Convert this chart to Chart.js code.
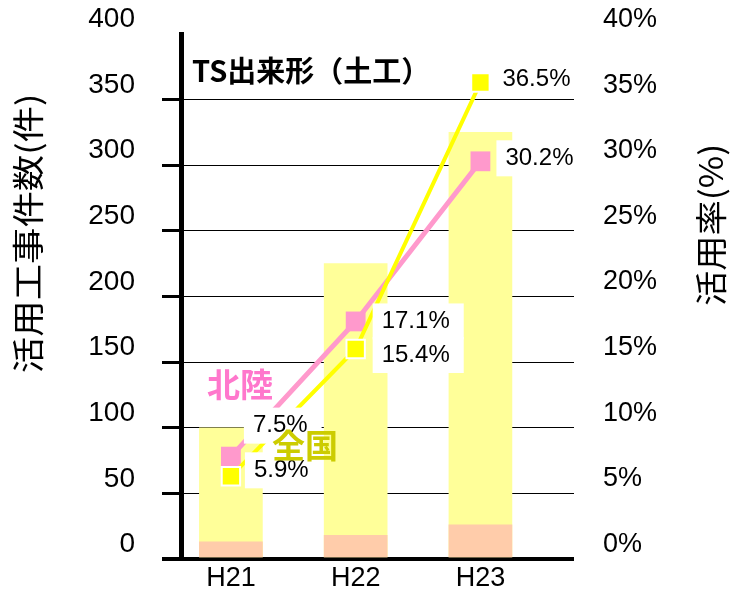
<!DOCTYPE html>
<html>
<head>
<meta charset="utf-8">
<script src="https://cdn.jsdelivr.net/npm/chart.js"></script>
<style>
  body { margin: 0; background: #fff; }
  canvas { display: block; }
</style>
</head>
<body>
<canvas id="chart" width="731" height="589"></canvas>
<script>
// categories (fiscal years)
const categories = ['H21', 'H22', 'H23'];

// counts (left axis, 件)
const zenkokuCount = [100, 225, 325];
const hokurikuCount = [13, 18, 26];

// rates (right axis, %) as plotted
const zenkokuRate = [6.3, 16.0, 36.3];
const hokurikuRate = [7.8, 18.1, 30.3];

// data label texts as printed
const zenkokuLabels = ['5.9%', '15.4%', '36.5%'];
const hokurikuLabels = ['7.5%', '17.1%', '30.2%'];

const chartTitle = 'TS出来形（土工）';
const leftTitle = '活用工事件数(件)';
const rightTitle = '活用率(%)';

const numFont = "'Liberation Sans', Arial, sans-serif";
const jpFont = "'Noto Sans CJK JP', sans-serif";

// label placement: [dx from point, dy from point]
const zenkokuLabelPos = [[23, -6], [26, 6], [22, -3]];
const hokurikuLabelPos = [[22, -31], [26, 0], [25, -3]];

function toXY(arr) {
    return arr.map((v, i) => ({ x: i, y: v }));
}

// rotated title, stretched so the ink spans from y0 (bottom) to y1 (top)
function drawVertical(ctx, text, cx, yBottom, yTop, font) {
    ctx.save();
    ctx.font = font;
    const m = ctx.measureText(text);
    const inkL = m.actualBoundingBoxLeft;   // ink extends left of x by this
    const inkW = m.actualBoundingBoxLeft + m.actualBoundingBoxRight;
    const k = (yBottom - yTop) / inkW;
    ctx.translate(cx, yBottom);
    ctx.rotate(-Math.PI / 2);
    ctx.scale(k, 1);
    ctx.textAlign = 'left';
    ctx.textBaseline = 'middle';
    ctx.fillStyle = '#000';
    ctx.fillText(text, inkL, 0);
    ctx.restore();
}

const labelPlugin = {
    id: 'labels',
    afterDatasetsDraw(chart) {
        const ctx = chart.ctx;
        ctx.save();
        ctx.font = '24px ' + numFont;
        ctx.textBaseline = 'middle';
        ctx.textAlign = 'left';

        const items = [];
        const addItems = (dsIndex, texts, pos) => {
            const meta = chart.getDatasetMeta(dsIndex);
            meta.data.forEach((pt, i) => {
                items.push({
                    text: texts[i],
                    x: pt.x + pos[i][0],
                    y: pt.y + pos[i][1],
                    w: ctx.measureText(texts[i]).width
                });
            });
        };
        addItems(0, zenkokuLabels, zenkokuLabelPos);
        addItems(1, hokurikuLabels, hokurikuLabelPos);

        // white boxes first, then the texts
        ctx.fillStyle = '#ffffff';
        items.forEach(it => ctx.fillRect(it.x - 9, it.y - 18, it.w + 23, 36));
        ctx.fillStyle = '#000000';
        items.forEach(it => ctx.fillText(it.text, it.x, it.y));

        // chart title
        ctx.font = 'bold 29px ' + jpFont;
        ctx.fillText(chartTitle, 192, 71);

        // series names
        ctx.font = 'bold 33px ' + jpFont;
        ctx.fillStyle = '#FF77CC';
        ctx.fillText('北陸', 207, 384);
        ctx.fillStyle = '#CCCC00';
        ctx.fillText('全国', 272, 445);
        ctx.restore();

        // axis titles
        drawVertical(ctx, leftTitle, 28, 372, 97, '32px ' + jpFont);
        drawVertical(ctx, rightTitle, 711, 305, 147, '32px ' + jpFont);
    }
};

function noPad(s) {
    s.paddingTop = 0;
    s.paddingBottom = 0;
    s.paddingLeft = 0;
    s.paddingRight = 0;
}

const ctx = document.getElementById('chart').getContext('2d');

new Chart(ctx, {
    data: {
        datasets: [
            {
                type: 'line',
                label: '全国',
                data: toXY(zenkokuRate),
                yAxisID: 'y1',
                borderColor: '#FFFF00',
                borderWidth: 4,
                pointStyle: 'rect',
                pointRadius: 13,
                pointBackgroundColor: '#FFFF00',
                pointBorderColor: '#FFFFFF',
                pointBorderWidth: 2,
                tension: 0,
                clip: false
            },
            {
                type: 'line',
                label: '北陸',
                data: toXY(hokurikuRate),
                yAxisID: 'y1',
                borderColor: '#FF99CC',
                borderWidth: 5,
                pointStyle: 'rect',
                pointRadius: 14,
                pointBackgroundColor: '#FF99CC',
                pointBorderColor: '#FF99CC',
                pointBorderWidth: 0,
                tension: 0,
                clip: false
            },
            {
                type: 'bar',
                label: '北陸件数',
                data: toXY(hokurikuCount),
                yAxisID: 'y',
                backgroundColor: '#FFCCAA',
                barThickness: 63,
                grouped: false
            },
            {
                type: 'bar',
                label: '全国件数',
                data: toXY(zenkokuCount),
                yAxisID: 'y',
                backgroundColor: '#FFFF99',
                barThickness: 63,
                grouped: false
            }
        ]
    },
    options: {
        responsive: false,
        animation: false,
        layout: { padding: { top: 34, left: 0, right: 0, bottom: 0 } },
        plugins: {
            legend: { display: false },
            tooltip: { enabled: false },
            title: { display: false }
        },
        scales: {
            x: {
                type: 'linear',
                offset: false,
                min: -0.4,
                max: 2.75,
                grid: { display: false, drawTicks: false },
                border: { display: false },
                afterBuildTicks: s => { s.ticks = categories.map((c, i) => ({ value: i })); },
                afterFit: s => { s.height = 30; noPad(s); },
                ticks: {
                    callback: v => categories[v],
                    font: { family: numFont, size: 27 },
                    color: '#000',
                    padding: 3,
                    maxRotation: 0
                }
            },
            y: {
                position: 'left',
                min: 0,
                max: 400,
                afterFit: s => { s.width = 181; noPad(s); },
                border: { display: true, color: '#000', width: 5 },
                grid: {
                    color: c => c.tick && c.tick.value === 400 ? 'rgba(0,0,0,0)' : '#000',
                    tickColor: c => c.tick && c.tick.value === 400 ? 'rgba(0,0,0,0)' : '#000',
                    lineWidth: c => c.tick && c.tick.value === 0 ? 4 : 1,
                    tickWidth: c => c.tick && c.tick.value === 0 ? 4 : 3,
                    tickLength: 19
                },
                ticks: {
                    stepSize: 50,
                    font: { family: numFont, size: 28 },
                    color: '#000',
                    padding: 27,
                    labelOffset: -14.5
                }
            },
            y1: {
                position: 'right',
                min: 0,
                max: 40,
                afterFit: s => { s.width = 157; noPad(s); },
                border: { display: false },
                grid: { display: false, drawTicks: false },
                ticks: {
                    stepSize: 5,
                    callback: v => v + '%',
                    font: { family: numFont, size: 27 },
                    color: '#000',
                    padding: 29,
                    labelOffset: -14.5
                }
            }
        }
    },
    plugins: [labelPlugin]
});
</script>
</body>
</html>
